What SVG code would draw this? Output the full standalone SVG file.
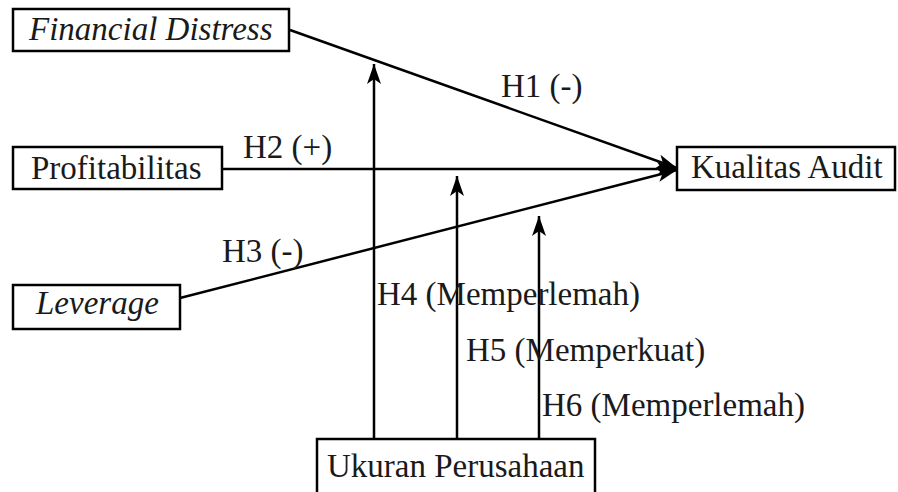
<svg xmlns="http://www.w3.org/2000/svg" width="898" height="492" viewBox="0 0 898 492">
<style>
.box{fill:#fff;stroke:#000;stroke-width:2.5}
.t{font-family:"Liberation Serif","Times New Roman",serif;font-size:33px;fill:#1a1a1a}
.i{font-style:italic}
.c{stroke:#000;stroke-width:2.5;fill:none;marker-end:url(#ah)}
</style>
<defs>
<marker id="ah" markerUnits="userSpaceOnUse" markerWidth="22" markerHeight="16" refX="20" refY="8" orient="auto">
<path d="M0,1 L20,8 L0,15 L5,8 z" fill="#000"/>
</marker>
</defs>
<rect width="898" height="492" fill="#fff"/>
<g id="connectors">
<line class="c" x1="290" y1="30" x2="677" y2="168"/>
<line class="c" x1="222" y1="169" x2="677" y2="169"/>
<line class="c" x1="180" y1="298" x2="677" y2="170"/>
<line class="c" x1="374" y1="439" x2="374" y2="64"/>
<line class="c" x1="457" y1="439" x2="457" y2="176"/>
<line class="c" x1="539" y1="439" x2="539" y2="216"/>
<text class="t" x="501" y="97">H1 (-)</text>
<text class="t" x="243" y="158">H2 (+)</text>
<text class="t" x="222" y="262">H3 (-)</text>
<text class="t" x="377" y="305">H4 (Memperlemah)</text>
<text class="t" x="466" y="361">H5 (Memperkuat)</text>
<text class="t" x="542" y="416">H6 (Memperlemah)</text>
</g>
<g id="financial-distress">
<rect class="box" x="13" y="9" width="276" height="42"/>
<text class="t i" x="29" y="40">Financial Distress</text>
</g>
<g id="profitabilitas">
<rect class="box" x="13" y="147" width="209" height="42"/>
<text class="t" x="31" y="179">Profitabilitas</text>
</g>
<g id="leverage">
<rect class="box" x="13" y="285" width="167" height="44"/>
<text class="t i" x="36" y="314">Leverage</text>
</g>
<g id="kualitas-audit">
<rect class="box" x="677" y="147" width="218" height="43"/>
<text class="t" x="691" y="178">Kualitas Audit</text>
</g>
<g id="ukuran-perusahaan">
<rect class="box" x="317" y="439" width="278" height="62"/>
<text class="t" x="327" y="477">Ukuran Perusahaan</text>
</g>
</svg>
